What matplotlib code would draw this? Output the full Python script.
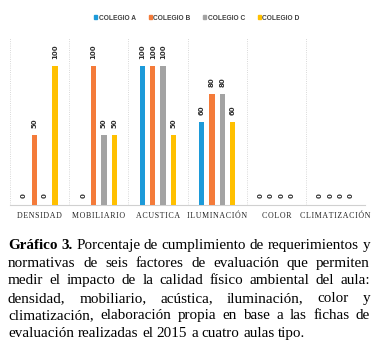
import matplotlib
matplotlib.use('Agg')
import matplotlib.pyplot as plt
from matplotlib.patches import Patch
import numpy as np

# --- data ---
categories = ['DENSIDAD', 'MOBILIARIO', 'ACUSTICA', 'ILUMINACIÓN', 'COLOR', 'CLIMATIZACIÓN']
series_names = ['COLEGIO A', 'COLEGIO B', 'COLEGIO C', 'COLEGIO D']
colegio_a = [0, 0, 100, 60, 0, 0]
colegio_b = [50, 100, 100, 80, 0, 0]
colegio_c = [0, 50, 100, 80, 0, 0]
colegio_d = [100, 50, 50, 60, 0, 0]
colors = ['#1C9AD9', '#F47B3A', '#A3A3A3', '#FFC000']

caption_lines = [
    'Porcentaje de cumplimiento de requerimientos y',
    'normativas de seis factores de evaluación que permiten',
    'medir el impacto de la calidad físico ambiental del aula:',
    'densidad, mobiliario, acústica, iluminación, color y',
    'climatización, elaboración propia en base a las fichas de',
    'evaluación realizadas el 2015 a cuatro aulas tipo.',
]
caption_bold = 'Gráfico 3.'

W, H = 382, 351
fig = plt.figure(figsize=(W / 100, H / 100), dpi=100)
ax = fig.add_axes([10 / W, 1 - 205 / H, 355 / W, 167 / H])

x = np.arange(len(categories))
width = 0.09
step = 0.175
all_series = [colegio_a, colegio_b, colegio_c, colegio_d]
for i, vals in enumerate(all_series):
    pos = x + (i - 1.5) * step
    ax.bar(pos, vals, width=width, color=colors[i], zorder=3)
    for p, v in zip(pos, vals):
        ax.annotate(str(v), (p, v), xytext=(0, 5), textcoords='offset points',
                    rotation=90, ha='center', va='bottom', fontsize=5,
                    fontweight='bold', color='#303030')

ax.set_xlim(-0.5, len(categories) - 0.5)
ax.set_ylim(0, 120)
ax.set_yticks([])
ax.set_xticks(x)
# letter-spaced category labels
spaced = ['\u200a'.join(c) for c in categories]
ax.set_xticklabels(spaced, family='Liberation Serif', fontsize=5.7, color='#202020')
ax.tick_params(axis='x', length=0, pad=5)
for b in np.arange(-0.5, len(categories), 1.0):
    ax.axvline(b, color='#CCCCCC', lw=0.6, ls=':', zorder=1)
for s in ['top', 'right', 'left']:
    ax.spines[s].set_visible(False)
ax.spines['bottom'].set_color('#D0D0D0')
ax.spines['bottom'].set_linewidth(0.8)

handles = [Patch(color=c, label=n) for c, n in zip(colors, series_names)]
leg = fig.legend(handles=handles, loc='center', bbox_to_anchor=(197 / W, 1 - 18 / H), ncol=4,
                 frameon=False, handlelength=0.45, handleheight=0.45, handletextpad=0.25,
                 columnspacing=1.9, prop={'family': 'Liberation Sans',
                                          'weight': 'bold', 'size': 4.8})
for t in leg.get_texts():
    t.set_color('#404040')

# --- caption, justified like the original ---
left, right = 8, 370
fsize = 10.9
base0 = 249
lead = 17.6
renderer = fig.canvas.get_renderer()
for li, line in enumerate(caption_lines):
    y = 1 - (base0 + li * lead) / H
    words = line.split(' ')
    pieces = [(w, 'normal') for w in words]
    if li == 0:
        pieces = [(w, 'bold') for w in caption_bold.split(' ')] + pieces
    texts = []
    for w, wt in pieces:
        t = fig.text(0, y, w, fontsize=fsize, family='Liberation Serif', fontweight=wt,
                     va='baseline', ha='left', color='black')
        texts.append(t)
    widths = [t.get_window_extent(renderer).width for t in texts]
    if li == len(caption_lines) - 1:
        space = fsize * 100 / 72 * 0.25
    else:
        space = (right - left - sum(widths)) / (len(texts) - 1)
    xp = left
    for t, wd in zip(texts, widths):
        t.set_x(xp / W)
        xp += wd + space

fig.savefig('out.png', dpi=100)
